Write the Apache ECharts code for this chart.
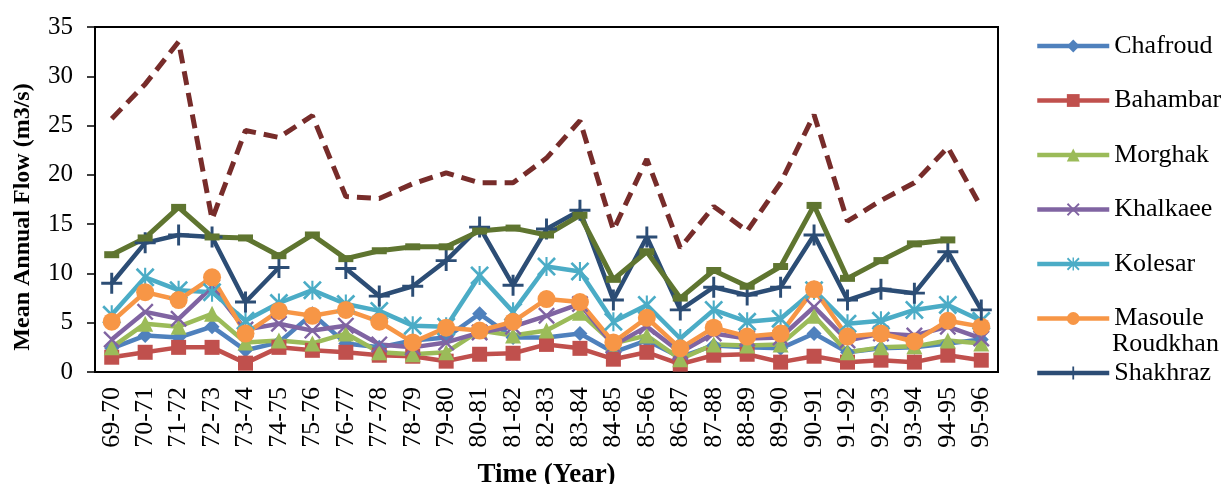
<!DOCTYPE html>
<html>
<head>
<meta charset="utf-8">
<script src="https://cdn.jsdelivr.net/npm/echarts@6/dist/echarts.min.js"></script>
<style>
  html, body { margin: 0; padding: 0; background: #fff; }
  #chart { width: 1221px; height: 484px; }
</style>
</head>
<body>
<div id="chart"></div>
<script>
var years = ['69-70', '70-71', '71-72', '72-73', '73-74', '74-75', '75-76', '76-77', '77-78',
    '78-79', '79-80', '80-81', '81-82', '82-83', '83-84', '84-85', '85-86', '86-87', '87-88',
    '88-89', '89-90', '90-91', '91-92', '92-93', '93-94', '94-95', '95-96'];

var chafroud = [2.4, 3.7, 3.5, 4.6, 2.2, 3.0, 5.9, 2.9, 2.5, 3.2, 3.5, 5.9, 3.5, 3.5, 3.9, 2.0, 3.2, 1.5, 2.7, 2.5, 2.4, 3.9, 2.0, 2.4, 2.5, 2.9, 3.3];
var bahambar = [1.5, 2.0, 2.5, 2.5, 0.9, 2.5, 2.2, 2.0, 1.7, 1.6, 1.1, 1.8, 1.9, 2.8, 2.4, 1.3, 2.0, 0.8, 1.7, 1.8, 1.0, 1.6, 1.0, 1.2, 1.0, 1.7, 1.2];
var morghak = [2.5, 4.9, 4.6, 5.9, 3.0, 3.2, 2.9, 3.9, 2.0, 1.8, 2.0, 4.2, 3.7, 4.2, 6.0, 2.9, 3.7, 1.3, 2.8, 2.7, 2.8, 5.7, 2.0, 2.5, 2.6, 3.2, 2.9];
var khalkaee = [3.3, 6.1, 5.4, 8.6, 4.3, 4.9, 4.2, 4.7, 2.8, 2.5, 3.0, 4.0, 4.6, 5.7, 6.9, 2.7, 4.6, 2.0, 3.9, 3.4, 3.5, 6.6, 3.2, 3.9, 3.7, 4.6, 3.4];
var kolesar = [5.8, 9.6, 8.3, 8.1, 5.2, 7.0, 8.3, 6.9, 6.2, 4.7, 4.6, 9.8, 6.1, 10.7, 10.2, 5.1, 6.8, 3.4, 6.3, 5.1, 5.4, 8.3, 4.9, 5.2, 6.3, 6.8, 5.2];
var masoule = [5.1, 8.1, 7.3, 9.6, 3.9, 6.2, 5.7, 6.3, 5.1, 3.0, 4.5, 4.2, 5.1, 7.4, 7.1, 3.0, 5.5, 2.4, 4.5, 3.6, 3.9, 8.4, 3.6, 3.9, 3.1, 5.2, 4.6];
var shakhraz = [9.0, 13.1, 13.9, 13.7, 7.1, 10.6, null, 10.5, 7.7, 8.7, 11.3, 14.7, 8.8, 14.5, 16.4, 7.3, 13.7, 6.3, 8.6, 7.8, 8.6, 13.9, 7.3, 8.4, 8.0, 12.2, 6.3];
var olive = [11.9, 13.6, 16.7, 13.7, 13.6, 11.8, 13.9, 11.5, 12.3, 12.7, 12.7, 14.3, 14.6, 13.9, 15.9, 9.4, 12.2, 7.5, 10.3, 8.7, 10.7, 16.9, 9.5, 11.3, 13.0, 13.4, null];
var total = [25.7, 29.2, 33.5, 15.5, 24.5, 23.8, 26.0, 17.8, 17.6, 19.1, 20.2, 19.2, 19.2, 21.7, 25.5, 14.4, 21.6, 12.6, 16.8, 14.3, 19.2, 26.1, 15.3, 17.4, 19.2, 22.8, 16.7];

var yTicks = { min: 0, max: 35, interval: 5 };

var serif = 'Liberation Serif, Times New Roman, serif';

var plusPath = 'path://M4.3,0H5.7V4.3H10V5.7H5.7V10H4.3V5.7H0V4.3H4.3Z';
var crossPath = 'path://M0,1L1,0L5,4L9,0L10,1L6,5L10,9L9,10L5,6L1,10L0,9L4,5Z';
var starPath = 'path://M0,1L1,0L5,4L9,0L10,1L6,5L10,9L9,10L5,6L1,10L0,9L4,5ZM4.45,0H5.55V10H4.45Z';

function lineSeries(name, data, color, symbol, size, width) {
    return {
        name: name,
        type: 'line',
        data: data,
        symbol: symbol,
        symbolSize: size,
        showSymbol: true,
        lineStyle: { color: color, width: width || 4.5 },
        itemStyle: { color: color, borderWidth: 0 },
        emphasis: { disabled: true }
    };
}

var myChart = echarts.init(document.getElementById('chart'));

var option = {
    backgroundColor: '#fff',
    animation: false,
    textStyle: { fontFamily: serif, color: '#000' },
    grid: {
        left: 95,
        right: 223,
        top: 27,
        bottom: 112,
        containLabel: false,
        outerBoundsMode: 'none',
        show: true,
        borderColor: '#000',
        borderWidth: 2
    },
    legend: {
        orient: 'vertical',
        left: 1030,
        top: 28,
        itemWidth: 72,
        itemHeight: 16,
        itemGap: 28.5,
        data: ['Chafroud', 'Bahambar', 'Morghak', 'Khalkaee', 'Kolesar', 'Masoule', 'Roudkhan Shakhraz'],
        formatter: function (name) {
            // the long name wraps: first word is drawn above as its own line
            return name === 'Roudkhan Shakhraz' ? 'Shakhraz' : name;
        },
        lineStyle: { width: 4.5 },
        textStyle: { fontFamily: serif, fontSize: 26, color: '#000', lineHeight: 26 }
    },
    graphic: [{
        type: 'text',
        left: 1112,
        top: 331,
        style: { text: 'Roudkhan', font: '26px ' + serif, fill: '#000' }
    }],
    xAxis: {
        type: 'category',
        data: years,
        name: 'Time (Year)',
        nameLocation: 'middle',
        nameGap: 90,
        nameTextStyle: { fontFamily: serif, fontSize: 27, fontWeight: 'bold', color: '#000' },
        axisLine: { lineStyle: { color: '#000', width: 2 } },
        axisTick: { alignWithLabel: true, length: 7, lineStyle: { color: '#000', width: 1.5 } },
        axisLabel: { rotate: 90, fontFamily: serif, fontSize: 26, color: '#000', margin: 15, interval: 0 },
        splitLine: { show: false }
    },
    yAxis: {
        type: 'value',
        min: yTicks.min,
        max: yTicks.max,
        interval: yTicks.interval,
        name: 'Mean Annual Flow (m3/s)',
        nameLocation: 'middle',
        nameGap: 60,
        nameTextStyle: { fontFamily: serif, fontSize: 24, fontWeight: 'bold', color: '#000', padding: [0, 35, 0, 0] },
        axisLine: { show: true, lineStyle: { color: '#000', width: 2 } },
        axisTick: { show: true, length: 8, lineStyle: { color: '#000', width: 1.5 } },
        axisLabel: { fontFamily: serif, fontSize: 25, color: '#000', margin: 22 },
        splitLine: { show: false }
    },
    series: [
        lineSeries('Chafroud', chafroud, '#4F81BD', 'diamond', 15),
        lineSeries('Bahambar', bahambar, '#C0504D', 'rect', 15),
        lineSeries('Morghak', morghak, '#9BBB59', 'triangle', 16),
        lineSeries('Khalkaee', khalkaee, '#8064A2', crossPath, 17),
        lineSeries('Kolesar', kolesar, '#4BACC6', starPath, 19),
        lineSeries('Masoule', masoule, '#F79646', 'circle', 18),
        lineSeries('Roudkhan Shakhraz', shakhraz, '#2C4D75', plusPath, 21),
        lineSeries('Series8', olive, '#5F7530', 'rect', [15, 7], 5),
        {
            name: 'Series9',
            type: 'line',
            data: total,
            symbol: 'none',
            lineStyle: { color: '#772C2A', width: 5, type: [14, 8] },
            itemStyle: { color: '#772C2A' },
            emphasis: { disabled: true }
        }
    ]
};

myChart.setOption(option);
</script>
</body>
</html>
